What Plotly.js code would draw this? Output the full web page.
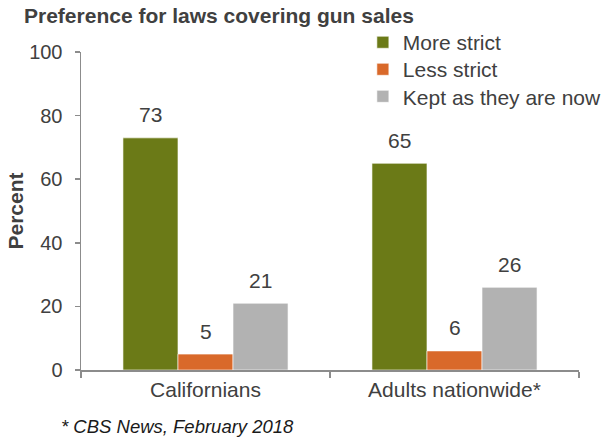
<!DOCTYPE html>
<html>
<head>
<meta charset="utf-8">
<script src="https://cdn.plot.ly/plotly-3.0.1.min.js"></script>
<style>html,body{margin:0;padding:0;background:#fff;}#chart{width:608px;height:440px;}</style>
</head>
<body>
<div id="chart"></div>
<script>
const categories = ["Californians", "Adults nationwide*"];
const seriesNames = ["More strict", "Less strict", "Kept as they are now"];
const moreStrict = [73, 65];
const lessStrict = [5, 6];
const keptAsNow = [21, 26];
const yTicks = [0, 20, 40, 60, 80, 100];
const chartTitle = "Preference for laws covering gun sales";
const footnote = "* CBS News, February 2018";

const colors = ["#6b7a17", "#d9692a", "#b2b2b2"];
const seriesValues = [moreStrict, lessStrict, keptAsNow];
const legendIds = ["legend", "legend2", "legend3"];
const legendY = [1.094, 1.009, 0.924];
const FONT = "Liberation Sans, Arial, sans-serif";
const TXT = "#404040";

const traces = seriesValues.map((vals, i) => ({
  type: "bar",
  name: seriesNames[i],
  x: categories,
  y: vals,
  legend: legendIds[i],
  marker: {color: colors[i], line: {color: "#ffffff", width: 0.6}},
  hoverinfo: "none"
}));

const barPx = 55;
const annotations = [];
seriesValues.forEach((vals, i) => {
  vals.forEach((v, j) => {
    annotations.push({
      x: categories[j], y: v, xref: "x", yref: "y",
      text: String(v), showarrow: false,
      xshift: (i - 1) * barPx, yshift: 23, yanchor: "middle",
      font: {family: FONT, size: 21, color: TXT}
    });
  });
});
annotations.push({
  text: footnote, xref: "paper", yref: "paper",
  x: -0.044, y: -0.179, xanchor: "left", yanchor: "middle",
  showarrow: false,
  font: {family: FONT, size: 18.5, color: "#1a1a1a", style: "italic"}
});

const layout = {
  width: 608, height: 440,
  margin: {l: 81, r: 29, t: 52, b: 70, autoexpand: false},
  paper_bgcolor: "#fff", plot_bgcolor: "#fff",
  font: {family: FONT, size: 21, color: TXT},
  title: {
    text: "<b>" + chartTitle + "</b>",
    xref: "container", yref: "container",
    x: 24 / 608, xanchor: "left", y: 1 - 16 / 440, yanchor: "middle",
    font: {family: FONT, size: 21, color: TXT}
  },
  barmode: "group", bargap: 0.337, bargroupgap: 0,
  xaxis: {
    type: "category", range: [-0.5, 1.5],
    showline: true, linecolor: "#8c8c8c", linewidth: 1.5,
    ticks: "outside", tickson: "boundaries", ticklen: 6, tickcolor: "#8c8c8c", tickwidth: 1.5,
    tickfont: {family: FONT, size: 21, color: TXT},
    showgrid: false, zeroline: false, fixedrange: true, automargin: false
  },
  yaxis: {
    range: [0, 100], tickvals: yTicks,
    showline: true, linecolor: "#8c8c8c", linewidth: 1.5,
    ticks: "outside", ticklen: 5, tickcolor: "#8c8c8c", tickwidth: 1.5,
    ticklabelstandoff: 8,
    tickfont: {family: FONT, size: 20, color: TXT},
    showgrid: false, zeroline: false, fixedrange: true, automargin: false,
    title: {text: "<b>Percent</b>", font: {family: FONT, size: 21, color: TXT}, standoff: 0}
  },
  showlegend: true,
  annotations: annotations
};
legendIds.forEach((id, i) => {
  layout[id] = {
    x: 0.566, xanchor: "left", y: legendY[i], yanchor: "top",
    font: {family: FONT, size: 21, color: TXT},
    bgcolor: "rgba(0,0,0,0)", itemwidth: 30
  };
});

Plotly.newPlot("chart", traces, layout, {displayModeBar: false, staticPlot: true});
</script>
</body>
</html>
